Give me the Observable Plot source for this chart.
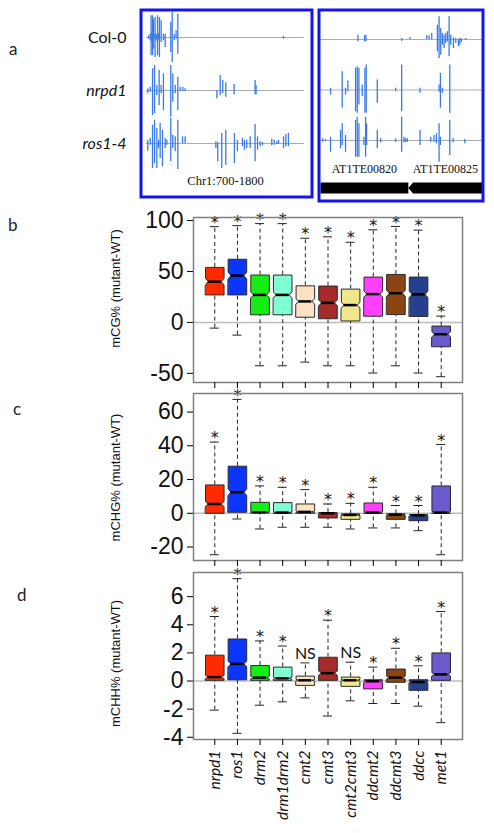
<!DOCTYPE html>
<html><head><meta charset="utf-8">
<script src="https://cdn.jsdelivr.net/npm/d3@7"></script>
<script src="https://cdn.jsdelivr.net/npm/@observablehq/plot@0.6"></script>
<style>
body{margin:0;background:#fff;}
#root{position:relative;width:494px;height:833px;overflow:hidden;background:#fff;}
.letter{position:absolute;font-family:Lato,sans-serif;font-size:17px;line-height:17px;color:#222;}
</style></head>
<body><div id="root"></div>
<script>
// ---------- shared categories ----------
const mutants = ["nrpd1","ros1","drm2","drm1drm2","cmt2","cmt3","cmt2cmt3","ddcmt2","ddcmt3","ddcc","met1"];
const boxColors = ["#ff2a00","#0a36ff","#14ee14","#7fffd4","#fde2c2","#a52a2a","#f0e68c","#ff40ff","#8b4513","#27408b","#6a5acd"];

// ---------- panel a : browser tracks ----------
const trackNames = ["Col-0","nrpd1","ros1-4"];
const chrLabel = "Chr1:700-1800";
const win1 = [700, 1800];
const col0Pos1 = [714,726,732,737,742,749,753,760,765,772,777,784,790,802,818,830,869,879,893,906,918,1654];
const col0Up1  = [.07,.13,.87,.2,.87,.73,.15,.8,.13,.1,.87,.15,.8,.67,.13,.13,.6,1.0,.13,.27,.93,.04];
const col0Dn1  = [.07,.13,.73,.2,.73,.47,.1,.8,.07,.15,.73,.1,.8,.2,.13,.4,.6,1.0,.13,.07,.67,.07];
const nrpdPos1 = [709,726,742,756,772,788,802,818,869,883,900,918,934,953,969,1190,1213,1231,1252,1310,1456,1463];
const nrpdUp1  = [.07,.13,.87,1.0,.2,.8,.2,.67,1.0,.67,.2,.53,.13,.13,.07,0,.6,.4,.31,.24,.4,.2];
const nrpdDn1  = [.13,.07,1.0,.93,.2,.6,.13,.8,1.07,.47,.13,.8,.04,.04,.04,.33,.2,.13,.27,.17,.17,.17];
const rosPos1 = [709,726,742,756,772,784,795,811,830,842,869,883,900,918,951,969,1183,1196,1224,1252,1312,1333,1368,1382,1398,1422,1456,1473,1491,1507,1572,1589,1607,1619,1654,1670,1688];
const rosUp1  = [.13,.2,.73,.93,.6,.13,.8,.53,.2,.13,1.0,.33,.27,.93,.27,.27,.07,.04,.4,.53,.4,.13,.2,.13,.13,.27,.76,.27,.07,.04,.17,.13,.07,.13,.27,.36,.4];
const rosDn1  = [.31,.07,1.0,.8,1.0,.2,.6,.93,.2,.07,.73,.2,.33,1.04,0,0,.2,.73,1.0,.87,.8,.33,.13,.27,.2,.2,.73,.27,.13,.09,.09,.07,.04,.04,.2,.13,.13];

const win2 = [0, 1455];
const col0Pos2 = [336,396,408,729,804,954,975,999,1050,1065,1080,1095,1110,1125,1140,1155,1170,1194,1215,1239,1251,1266,1305];
const col0Up2  = [.17,.15,.17,.04,.08,.15,.15,.24,.57,.91,.44,.24,.17,.24,.31,.91,.17,.07,.04,0,.04,.04,.04];
const col0Dn2  = [.09,.09,.09,.07,0,0,0,0,.49,.76,.63,.23,.36,.16,.09,.69,.23,.36,.16,.29,.23,.12,.03];
const nrpdPos2 = [90,195,225,246,315,330,345,375,399,411,510,675,729,894,1065,1077,1095,1161];
const nrpdUp2  = [.07,.73,.07,.36,.87,.93,.87,.2,.87,1.0,.4,.07,1.0,.07,.2,.67,.07,1.0];
const nrpdDn2  = [.2,.73,.2,.07,.87,.93,.6,.27,.93,.93,.53,.07,.87,.13,.09,.73,.13,.93];
const rosPos2 = [21,45,90,180,195,225,315,330,345,390,405,414,510,540,675,729,750,765,780,894,990,1020,1041,1065,1077,1161,1191,1296];
const rosUp2  = [.07,.04,.13,.4,.67,.2,.8,.93,.67,.13,.93,.67,.4,.07,.07,.93,.13,.07,.07,.4,.13,.2,.27,.67,.13,.8,.07,.04];
const rosDn2  = [.07,.04,.47,.33,.2,.47,.67,.67,.67,.2,.67,.2,.33,.09,.07,.47,.09,.09,.07,.2,.07,.07,.13,.87,.2,.6,.09,.13];
const geneNames  = ["AT1TE00820","AT1TE00825"];
const geneStart  = [0, 789];
const geneEnd    = [789, 1455];
const geneStrand = ["+","-"];

// ---------- panel b : mCG ----------
const cgLow    = [-5.6,-12.5,-42.6,-42.6,-39,-42.6,-42.6,-49.7,-42.6,-49.7,-53.3];
const cgQ1     = [27,27,7.5,7.5,5.1,3.6,1.4,6.1,7.7,5.9,-23.9];
const cgMedian = [40,46,27,27,20.6,19.2,17,27.8,28.6,27.5,-11.6];
const cgQ3     = [54,62,46.5,46.5,35.9,35.7,32.7,44.5,47.1,44.5,-3.6];
const cgHigh   = [94,95,97,97,82.6,84,78.7,90.9,94.2,90.6,6.2];
const cgNotch  = [3.3,3.3,3,3,2.5,2.8,2.8,3,3,3,2.5];
const cgSig    = ["*","*","*","*","*","*","*","*","*","*","*"];

// ---------- panel c : mCHG ----------
const chgLow    = [-24.6,-3.4,-9.3,-8.3,-8.3,-8.3,-9.3,-8.7,-8.7,-10.3,-24.6];
const chgQ1     = [0,0.6,0.2,0,0,-2.8,-3.6,0,-3.6,-4.4,0];
const chgMedian = [5.5,12.5,0.6,0.4,0.8,0,-1,0.4,-0.8,-1.2,0.4];
const chgQ3     = [16.8,27.9,6.5,6.3,5.5,0.4,-0.4,6.1,-0.4,-0.8,16.2];
const chgHigh   = [42.2,67.5,16.2,15.4,14,5.5,5.9,15.4,4.6,4.6,40.8];
const chgNotch  = [1.5,2,0.5,0.5,0.5,0.4,0.4,0.5,0.4,0.4,0.8];
const chgSig    = ["*","*","*","*","*","*","*","*","*","*","*"];

// ---------- panel d : mCHH ----------
const chhLow    = [-2.07,-3.72,-1.72,-1.48,-1.2,-2.49,-1.41,-1.6,-1.6,-1.79,-2.96];
const chhQ1     = [0.05,0.09,0.05,0.05,-0.31,0.05,-0.38,-0.56,-0.09,-0.66,0.05];
const chhMedian = [0.28,1.22,0.24,0.19,0.05,0.56,0.05,-0.02,0.24,-0.07,0.47];
const chhQ3     = [1.84,2.99,1.1,0.99,0.35,1.69,0.28,0.09,0.85,0.09,2.0];
const chhHigh   = [4.59,7.28,2.85,2.49,1.29,4.33,1.34,0.99,2.33,1.08,4.94];
const chhNotch  = [0.12,0.2,0.1,0.08,0.06,0.15,0.06,0.06,0.1,0.06,0.12];
const chhSig    = ["*","*","*","*","NS","*","NS","*","*","*","*"];

// ---------- rendering ----------
const root = document.getElementById("root");
function place(el, left, top){ el.style.position="absolute"; el.style.left=left+"px"; el.style.top=top+"px"; root.appendChild(el); }
function letter(t, left, top){ const d=document.createElement("div"); d.className="letter"; d.textContent=t; d.style.left=left+"px"; d.style.top=top+"px"; root.appendChild(d); }

const SPIKE = "#3a7ae6", BASE = "#a8acb4", BORDER = "#1414f2";
const PX = 25, AH = 205;
const SANS = "Lato, sans-serif", ARIAL = "Liberation Sans, Arial, sans-serif", SERIF = "Liberation Serif, Times New Roman, serif";
const STARFONT = "DejaVu Sans, sans-serif";

function spikeRows(tracks){
  return tracks.flatMap((t,k)=> t[0].map((p,j)=>({track:k, pos:p, up:t[1][j], down:t[2][j]})));
}

// browser box 1
{
  const base = 37, gap = 53/PX;
  const rows = spikeRows([[col0Pos1,col0Up1,col0Dn1],[nrpdPos1,nrpdUp1,nrpdDn1],[rosPos1,rosUp1,rosDn1]]);
  const p = Plot.plot({
    width:316, height:AH, marginLeft:146, marginRight:12, marginTop:0, marginBottom:0,
    style:{background:"transparent", overflow:"visible", fontFamily:SANS},
    x:{domain:win1, axis:null}, y:{domain:[-(AH-base)/PX, base/PX], axis:null},
    marks:[
      Plot.ruleY(trackNames, {y:(d,i)=>-i*gap, stroke:BASE, strokeWidth:1}),
      Plot.ruleX(rows, {x:"pos", y1:d=>-d.track*gap+d.up, y2:d=>-d.track*gap-d.down, stroke:SPIKE, strokeWidth:1.3}),
      Plot.text(trackNames, {filter:(d,i)=>i===0, y:(d,i)=>-i*gap, text:d=>d, frameAnchor:"left", dx:-20, textAnchor:"end", fontSize:16, fontFamily:SANS, fill:"#111"}),
      Plot.text(trackNames, {filter:(d,i)=>i>0, y:(d,i)=>-i*gap, text:d=>d, frameAnchor:"left", dx:-20, textAnchor:"end", fontSize:16, fontStyle:"italic", fontFamily:SANS, fill:"#111"}),
      Plot.text([chrLabel], {text:d=>d, frameAnchor:"bottom", textAnchor:"middle", dy:-21, fontSize:12.5, fontFamily:SERIF, fill:"#111"}),
      Plot.frame({stroke:BORDER, strokeWidth:3, insetLeft:-5.5, insetRight:-7.5, insetTop:9.5, insetBottom:8.5})
    ]
  });
  place(p, 0, 0);
}
// browser box 2
{
  const base = 39, gap = 50.5/PX;
  const geneRow = (base-187.5)/PX, geneHalf = 5.5/PX, arrow = 42;
  const rows = spikeRows([[col0Pos2,col0Up2,col0Dn2],[nrpdPos2,nrpdUp2,nrpdDn2],[rosPos2,rosUp2,rosDn2]]);
  const genes = geneNames.map((n,i)=>({name:n, start:geneStart[i], end:geneEnd[i], strand:geneStrand[i]}));
  const geneMarks = genes.map(g=>{
    const pts = g.strand==="-"
      ? [[g.start,geneRow],[g.start+arrow,geneRow+geneHalf],[g.end,geneRow+geneHalf],[g.end,geneRow-geneHalf],[g.start+arrow,geneRow-geneHalf]]
      : [[g.start,geneRow+geneHalf],[g.end,geneRow+geneHalf],[g.end,geneRow-geneHalf],[g.start,geneRow-geneHalf]];
    return Plot.line(pts, {x:d=>d[0], y:d=>d[1], fill:"#000", stroke:"none", curve:"linear-closed"});
  });
  const p = Plot.plot({
    width:178, height:AH, marginLeft:4, marginRight:12, marginTop:0, marginBottom:0,
    style:{background:"transparent", overflow:"visible", fontFamily:SANS},
    x:{domain:win2, axis:null}, y:{domain:[-(AH-base)/PX, base/PX], axis:null},
    marks:[
      Plot.ruleY(trackNames, {y:(d,i)=>-i*gap, stroke:BASE, strokeWidth:1}),
      Plot.ruleX(rows, {x:"pos", y1:d=>-d.track*gap+d.up, y2:d=>-d.track*gap-d.down, stroke:SPIKE, strokeWidth:1.3}),
      ...geneMarks,
      Plot.text(genes, {x:d=>(d.start+d.end)/2, y:()=>geneRow+geneHalf, text:"name", dy:-13, fontSize:12, fontFamily:SERIF, fill:"#111"}),
      Plot.frame({stroke:BORDER, strokeWidth:3, insetLeft:-1.5, insetRight:-0.5, insetTop:9.5, insetBottom:4.5})
    ]
  });
  place(p, 316, 0);
}

// box plot panels
function boxPanel(o){
  const idx = mutants.map((m,i)=>i+1);
  const rows = mutants.map((m,i)=>({i:i+1, color:boxColors[i], low:o.low[i], q1:o.q1[i], med:o.med[i], q3:o.q3[i], high:o.high[i], c:o.notch[i], sig:o.sig[i]}));
  const W = 0.41, F = 0.7, CAP = 0.2;
  const boxMarks = rows.map(r=>{
    const lo = Math.max(r.q1, r.med-r.c), hi = Math.min(r.q3, r.med+r.c);
    const pts = [[-1,r.q1],[1,r.q1],[1,lo],[F,r.med],[1,hi],[1,r.q3],[-1,r.q3],[-1,hi],[-F,r.med],[-1,lo]]
      .map(([k,v])=>({x:r.i+k*W, y:v}));
    return Plot.line(pts, {x:"x", y:"y", fill:r.color, stroke:"#2a2a2a", strokeWidth:1, curve:"linear-closed"});
  });
  const xAxis = o.showX
    ? Plot.axisX(idx, {tickSize:6, tickPadding:5, tickRotate:-90, tickFormat:i=>mutants[i-1], fontStyle:"italic", fontSize:15.5, fontFamily:SANS, fill:"#111", label:null})
    : Plot.axisX(idx, {tickSize:6, tickFormat:()=>"", label:null});
  return Plot.plot({
    width:494, height:o.height, marginLeft:193, marginRight:32, marginTop:o.mt, marginBottom:o.mb,
    style:{background:"transparent", overflow:"visible", fontFamily:ARIAL},
    x:{domain:[0.06, 11.94], label:null}, y:{domain:o.yDomain, label:null},
    marks:[
      Plot.ruleY([0], {stroke:"#bcbcbc", strokeWidth:1.5}),
      Plot.ruleX(rows, {x:"i", y1:"q3", y2:"high", stroke:"#222", strokeDasharray:"4,3"}),
      Plot.ruleX(rows, {x:"i", y1:"low", y2:"q1", stroke:"#222", strokeDasharray:"4,3"}),
      Plot.ruleY(rows, {y:"high", x1:d=>d.i-CAP, x2:d=>d.i+CAP, stroke:"#222"}),
      Plot.ruleY(rows, {y:"low", x1:d=>d.i-CAP, x2:d=>d.i+CAP, stroke:"#222"}),
      ...boxMarks,
      Plot.ruleY(rows, {y:"med", x1:d=>d.i-F*W, x2:d=>d.i+F*W, stroke:"#000", strokeWidth:2.5}),
      Plot.text(rows, {filter:d=>d.sig==="*", x:"i", y:"high", text:"sig", dy:-4, fontSize:16, fontFamily:STARFONT, fill:"#111"}),
      Plot.text(rows, {filter:d=>d.sig!=="*", x:"i", y:"high", text:"sig", dy:-9, fontSize:16, fontFamily:SANS, fill:"#111"}),
      Plot.frame({stroke:"#808080", strokeWidth:1.5}),
      Plot.axisY(o.yTicks, {tickSize:6, tickPadding:4, fontSize:23, fontFamily:ARIAL, tickFormat:d=>String(d), fill:"#111", label:null}),
      xAxis,
      Plot.text([o.yLabel], {text:d=>d, frameAnchor:"left", textAnchor:"middle", rotate:-90, dx:-78, dy:o.labelDy, fontSize:13, fontFamily:ARIAL, fill:"#111"})
    ]
  });
}

place(boxPanel({low:cgLow, q1:cgQ1, med:cgMedian, q3:cgQ3, high:cgHigh, notch:cgNotch, sig:cgSig,
  yDomain:[-59,103], yTicks:[-50,0,50,100], yLabel:"mCG% (mutant-WT)", height:190, mt:17, mb:8, labelDy:-11.5, showX:false}), 0, 200);
place(boxPanel({low:chgLow, q1:chgQ1, med:chgMedian, q3:chgQ3, high:chgHigh, notch:chgNotch, sig:chgSig,
  yDomain:[-28,71], yTicks:[-20,0,20,40,60], yLabel:"mCHG% (mutant-WT)", height:180, mt:7, mb:6, labelDy:0.5, showX:false}), 0, 386);
place(boxPanel({low:chhLow, q1:chhQ1, med:chhMedian, q3:chhQ3, high:chhHigh, notch:chhNotch, sig:chhSig,
  yDomain:[-4.16,7.72], yTicks:[-4,-2,0,2,4,6], yLabel:"mCHH% (mutant-WT)", height:268, mt:7, mb:94, labelDy:7.5, showX:true}), 0, 565);

letter("a", 9, 40);
letter("b", 8, 216);
letter("c", 13, 400);
letter("d", 17, 586);
</script>
</body></html>
